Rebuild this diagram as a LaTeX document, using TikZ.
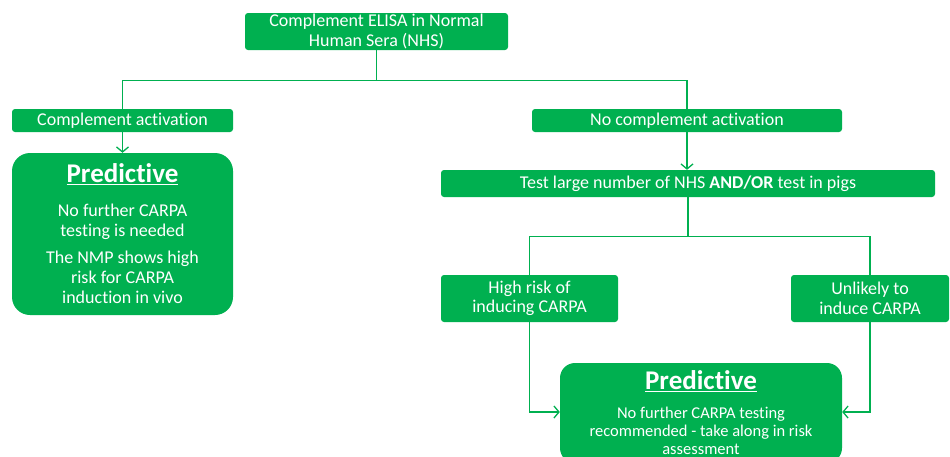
\documentclass[tikz,border=0pt]{standalone}
\usepackage{fontspec}
\setmainfont{Carlito}[Ligatures=NoCommon]
\usetikzlibrary{arrows.meta,positioning}
\definecolor{flowgreen}{RGB}{0,176,80}
\tikzset{
  chart/.style={x=1pt,y=-1pt,font=\fontsize{18}{19.5}\selectfont,>={Straight Barb[length=5pt,width=12pt]}},
  box/.style={fill=flowgreen,text=white,rounded corners=3pt,align=center,inner sep=0pt},
  bigbox/.style={box,rounded corners=18pt},
  link/.style={draw=flowgreen,line width=1.3pt},
  flow/.style={link,->},
}
\newcommand{\predhead}{{\fontsize{27}{30}\selectfont\bfseries\underline{Predictive}}}

\begin{document}
\begin{tikzpicture}[chart]
\useasboundingbox (0,0) rectangle (950,456);
\node[box,minimum width=263,minimum height=37] (elisa) at (376.5,31.5) {Complement ELISA in Normal\\Human Sera (NHS)};
\node[box,minimum width=221,minimum height=23] (act) at (122.5,120.5) {Complement activation};
\node[box,minimum width=310,minimum height=23] (noact) at (687,120.5) {No complement activation};
\node[bigbox,minimum width=221,minimum height=162,font=\fontsize{18}{20}\selectfont] (pred1) at (122.5,234)
  {\predhead\\[14pt] No further CARPA\\testing is needed\\[7pt] The NMP shows high\\risk for CARPA\\induction in vivo};
\node[box,minimum width=494,minimum height=27] (test) at (688,183.5) {Test large number of NHS \textbf{AND/OR} test in pigs};
\node[box,minimum width=177,minimum height=47] (high) at (529.5,298.5) {High risk of\\inducing CARPA};
\node[box,minimum width=158,minimum height=47] (unlik) at (870,298.5) {Unlikely to\\induce CARPA};
\node[bigbox,rounded corners=15pt,minimum width=282,minimum height=100,font=\fontsize{16.5}{18}\selectfont] (pred2) at (701,413)
  {\predhead\\[11pt] No further CARPA testing\\recommended - take along in risk\\assessment};
% first split
\draw[link] (elisa.south) -- ++(0,30) coordinate (split1);
\draw[link] (act.north) |- (split1) -| (noact.north);
\draw[flow] (act.south) -- (pred1.north);
\draw[flow] (noact.south) -- (noact.south |- test.north);
% second split
\draw[link] (test.south) -- ++(0,39) coordinate (split2);
\draw[link] (high.north) |- (split2) -| (unlik.north);
\draw[flow] (high.south) |- ([yshift=1pt]pred2.west);
\draw[flow] (unlik.south) |- ([yshift=1pt]pred2.east);
\end{tikzpicture}
\end{document}
